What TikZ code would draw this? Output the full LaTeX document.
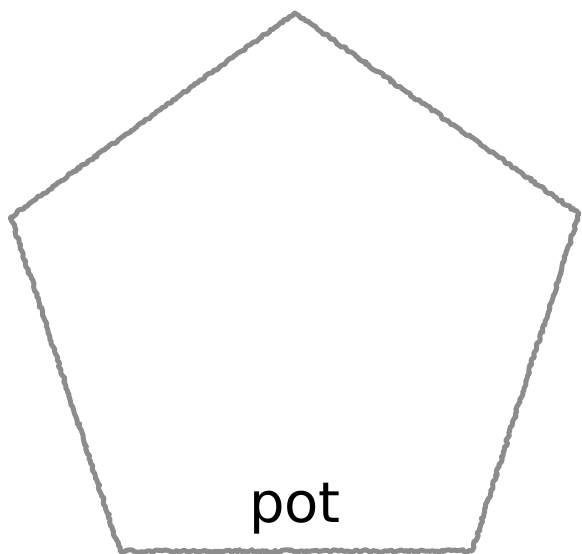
\documentclass[tikz,border=0pt]{standalone}
\usepackage{fontspec}
\setmainfont{DejaVu Sans}
\usetikzlibrary{decorations.pathmorphing}

\begin{document}
\begin{tikzpicture}[
    x=1pt, y=1pt,
    sketchline/.style={draw=black!45, line width=5pt, line join=round,
                       line cap=round,
                       decorate, decoration={random steps, segment length=2.5pt,
                                             amplitude=1.3pt}},
    potlbl/.style={font=\fontsize{56}{66}\selectfont, anchor=base},
  ]
    \useasboundingbox (0,0) rectangle (582,554);

    % pentagon corners
    \coordinate (top) at (295,541);
    \coordinate (right) at (579,340);
    \coordinate (botright) at (472,3);
    \coordinate (botleft) at (120,3);
    \coordinate (left) at (11,337);

    % rough outline
    \draw[sketchline] (top) -- (right) -- (botright) -- (botleft) -- (left) -- cycle;

    % label
    \node[potlbl] (pot) at (295,31) {pot};
  \end{tikzpicture}
\end{document}
